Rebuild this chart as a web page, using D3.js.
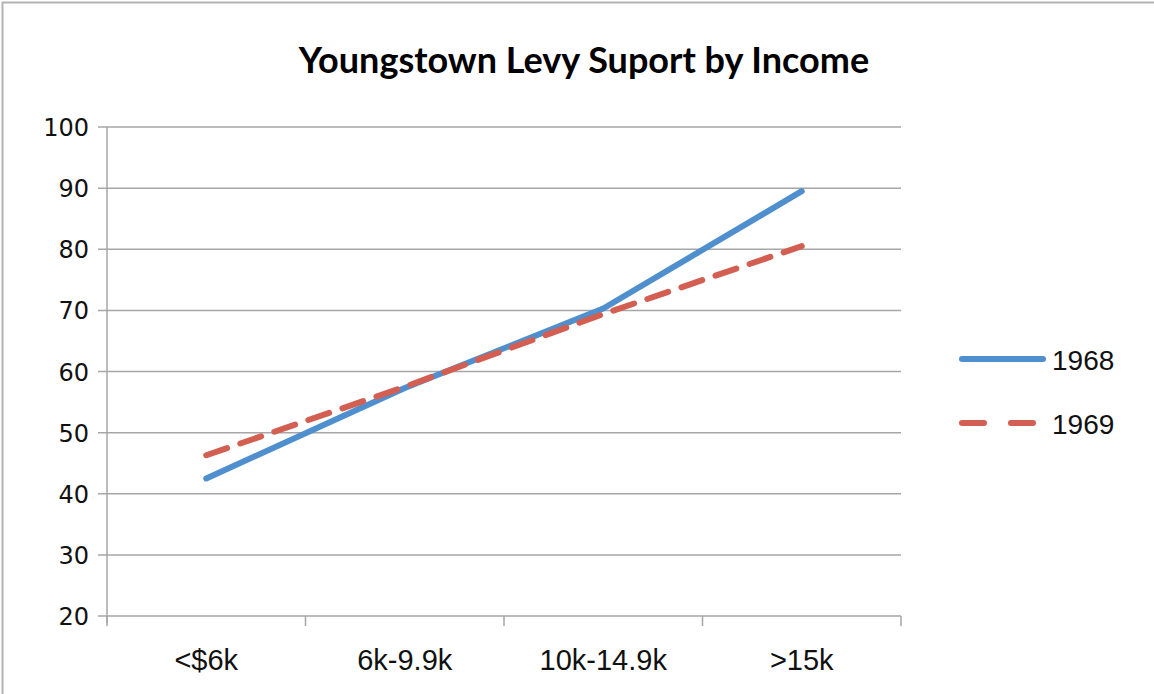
<!DOCTYPE html>
<html>
<head>
<meta charset="utf-8">
<script src="https://cdn.jsdelivr.net/npm/d3@7"></script>
<style>
  body { margin: 0; background: #fff; }
  svg { display: block; }
</style>
</head>
<body>
<svg id="chart"></svg>
<script>
var categories = ["<$6k", "6k-9.9k", "10k-14.9k", ">15k"];
var years = ["1968", "1969"];
var support1968 = [42.5, 57.3, 70.3, 89.5];
var support1969 = [46.3, 57.5, 69.4, 80.5];
var yTicks = [20, 30, 40, 50, 60, 70, 80, 90, 100];

var width = 1154, height = 694;
var margin = {left: 107, right: 253, top: 127, bottom: 78};

var svg = d3.select("#chart").attr("width", width).attr("height", height);

// outer frame (only top/left visible in the original)
svg.append("rect")
    .attr("x", 2.5).attr("y", 2.5)
    .attr("width", width + 10).attr("height", height + 10)
    .attr("fill", "none")
    .attr("stroke", "#b3b3b3")
    .attr("stroke-width", 2);

var x = d3.scaleBand().domain(categories)
    .range([margin.left, width - margin.right]);
var y = d3.scaleLinear().domain([20, 100])
    .range([height - margin.bottom, margin.top]);

// gridlines
svg.append("g")
    .selectAll("line")
    .data(yTicks)
    .enter().append("line")
    .attr("x1", margin.left - 9)
    .attr("x2", width - margin.right)
    .attr("y1", function (d) { return y(d); })
    .attr("y2", function (d) { return y(d); })
    .style("stroke", "#a6a6a6")
    .style("stroke-width", 1.5);

// y axis line
svg.append("line")
    .attr("x1", margin.left).attr("x2", margin.left)
    .attr("y1", y(100)).attr("y2", y(20) + 7)
    .style("stroke", "#a6a6a6")
    .style("stroke-width", 1.5);

// y labels
svg.append("g")
    .selectAll("text")
    .data(yTicks)
    .enter().append("text")
    .attr("x", 89)
    .attr("y", function (d) { return y(d) + 9; })
    .attr("text-anchor", "end")
    .style("font-family", "DejaVu Sans")
    .style("font-size", "24px")
    .style("fill", "#111")
    .text(function (d) { return d; });

// x tick marks
var xTickPos = categories.map(function (c) { return x(c); });
xTickPos.push(x(categories[categories.length - 1]) + x.bandwidth());
svg.append("g")
    .selectAll("line")
    .data(xTickPos)
    .enter().append("line")
    .attr("x1", function (d) { return d; })
    .attr("x2", function (d) { return d; })
    .attr("y1", y(20))
    .attr("y2", y(20) + 10)
    .style("stroke", "#a6a6a6")
    .style("stroke-width", 1.5);

// x labels
svg.append("g")
    .selectAll("text")
    .data(categories)
    .enter().append("text")
    .attr("x", function (d) { return x(d) + x.bandwidth() / 2; })
    .attr("y", 670)
    .attr("text-anchor", "middle")
    .style("font-family", "'Liberation Sans', sans-serif")
    .style("font-size", "29px")
    .style("fill", "#111")
    .text(function (d) { return d; });

// title
svg.append("text")
    .attr("x", 584)
    .attr("y", 73)
    .attr("text-anchor", "middle")
    .style("font-family", "Lato, 'Open Sans', sans-serif")
    .style("font-weight", "bold")
    .style("font-size", "36px")
    .style("fill", "#000")
    .text("Youngstown Levy Suport by Income");

var line = d3.line()
    .x(function (d, i) { return x(categories[i]) + x.bandwidth() / 2; })
    .y(function (d) { return y(d); });

var series = [
    {name: years[0], values: support1968, color: "#4f8fce", dash: null},
    {name: years[1], values: support1969, color: "#d35f52", dash: "22,14"}
];

svg.append("g")
    .selectAll("path")
    .data(series)
    .enter().append("path")
    .attr("d", function (d) { return line(d.values); })
    .attr("fill", "none")
    .attr("stroke", function (d) { return d.color; })
    .attr("stroke-width", 6)
    .attr("stroke-linecap", "round")
    .attr("stroke-linejoin", "round")
    .attr("stroke-dasharray", function (d) { return d.dash; });

// legend
var legend = svg.append("g")
    .selectAll("g")
    .data(series)
    .enter().append("g")
    .attr("transform", function (d, i) { return "translate(0," + (359 + i * 64) + ")"; });

legend.append("line")
    .attr("x1", 962).attr("x2", 1043)
    .attr("y1", 0).attr("y2", 0)
    .attr("stroke", function (d) { return d.color; })
    .attr("stroke-width", 6)
    .attr("stroke-linecap", "round")
    .attr("stroke-dasharray", function (d) { return d.dash ? "22,27" : null; });

legend.append("text")
    .attr("x", 1052)
    .attr("y", 11)
    .style("font-family", "'Liberation Sans', sans-serif")
    .style("font-size", "28px")
    .style("fill", "#111")
    .text(function (d) { return d.name; });
</script>
</body>
</html>
